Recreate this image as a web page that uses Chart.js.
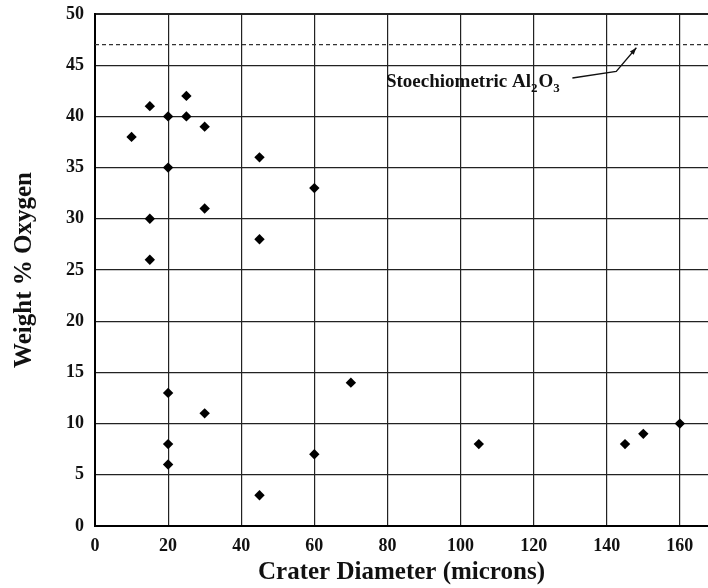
<!DOCTYPE html>
<html>
<head>
<meta charset="utf-8">
<script src="https://cdn.jsdelivr.net/npm/chart.js@4.4.1/dist/chart.umd.min.js"></script>
<style>
html,body{margin:0;padding:0;background:#fff;}
#wrap{width:708px;height:588px;}
</style>
</head>
<body>
<div id="wrap"><canvas id="c" width="708" height="588"></canvas></div>
<script>
// ---- data ----
const craterDiameter = [10, 15, 20, 25, 25, 30, 45, 20, 60, 30, 15, 45, 15, 20, 30, 70, 20, 20, 60, 45, 105, 145, 150, 160];
const weightOxygen   = [38, 41, 40, 42, 40, 39, 36, 35, 33, 31, 30, 28, 26, 13, 11, 14, 8, 6, 7, 3, 8, 8, 9, 10];
const stoichiometricO = 47;
const xTickValues = [0, 20, 40, 60, 80, 100, 120, 140, 160];
const yTickValues = [0, 5, 10, 15, 20, 25, 30, 35, 40, 45, 50];
const xAxisTitle = 'Crater Diameter (microns)';
const yAxisTitle = 'Weight % Oxygen';
const annotationParts = [['Stoechiometric Al', false], ['2', true], ['O', false], ['3', true]];

const X_MIN = 0, X_MAX = 167.7, Y_MIN = 0, Y_MAX = 50;
const SERIF = '"Liberation Serif", "Times New Roman", serif';

const points = craterDiameter.map((x, i) => ({x: x, y: weightOxygen[i]}));
const stoichLine = [{x: X_MIN, y: stoichiometricO}, {x: X_MAX, y: stoichiometricO}];

const bgPlugin = {
  id: 'bg',
  beforeDraw(chart) {
    const c = chart.ctx;
    c.save(); c.fillStyle = '#fff'; c.fillRect(0, 0, chart.width, chart.height); c.restore();
  }
};

const annotationPlugin = {
  id: 'annot',
  afterDatasetsDraw(chart) {
    const c = chart.ctx, xs = chart.scales.x, ys = chart.scales.y;
    let px = xs.getPixelForValue(79.6);
    const py = ys.getPixelForValue(42.87);
    c.save();
    c.fillStyle = '#111';
    c.textBaseline = 'alphabetic';
    c.textAlign = 'left';
    annotationParts.forEach(([t, sub]) => {
      c.font = 'bold ' + (sub ? 13 : 19) + 'px ' + SERIF;
      c.fillText(t, px, py + (sub ? 5 : 0));
      px += c.measureText(t).width + (sub ? 1 : 0);
    });
    const p0 = [xs.getPixelForValue(130.6), ys.getPixelForValue(43.75)];
    const p1 = [xs.getPixelForValue(142.6), ys.getPixelForValue(44.4)];
    const p2 = [xs.getPixelForValue(148.1), ys.getPixelForValue(46.7)];
    c.strokeStyle = '#111';
    c.lineWidth = 1.3;
    c.beginPath(); c.moveTo(p0[0], p0[1]); c.lineTo(p1[0], p1[1]); c.lineTo(p2[0], p2[1]); c.stroke();
    const ang = Math.atan2(p2[1] - p1[1], p2[0] - p1[0]);
    const L = 7, W = 2.5;
    c.beginPath();
    c.moveTo(p2[0], p2[1]);
    c.lineTo(p2[0] - L * Math.cos(ang) + W * Math.sin(ang), p2[1] - L * Math.sin(ang) - W * Math.cos(ang));
    c.lineTo(p2[0] - L * Math.cos(ang) - W * Math.sin(ang), p2[1] - L * Math.sin(ang) + W * Math.cos(ang));
    c.closePath(); c.fillStyle = '#111'; c.fill();
    c.restore();
  }
};

function zeroPad(scale) {
  scale.paddingLeft = 0; scale.paddingRight = 0; scale.paddingTop = 0; scale.paddingBottom = 0;
}

new Chart(document.getElementById('c'), {
  type: 'scatter',
  data: {
    datasets: [
      {
        label: 'Stoichiometric',
        type: 'line',
        data: stoichLine,
        borderColor: '#333',
        borderWidth: 1.2,
        borderDash: [4, 3],
        pointRadius: 0,
        fill: false,
        order: 2
      },
      {
        label: 'Weight % Oxygen',
        data: points,
        pointStyle: 'rectRot',
        pointRadius: 5.2,
        backgroundColor: '#000',
        borderColor: '#000',
        borderWidth: 0,
        order: 1
      }
    ]
  },
  options: {
    responsive: false,
    devicePixelRatio: 1,
    animation: false,
    layout: {autoPadding: false, padding: {top: 14, right: 0, left: 0, bottom: 0}},
    plugins: {legend: {display: false}, tooltip: {enabled: false}},
    scales: {
      x: {
        type: 'linear',
        min: X_MIN, max: X_MAX,
        afterBuildTicks(scale) { scale.ticks = xTickValues.map(v => ({value: v})); },
        afterFit(scale) { scale.height = 62; zeroPad(scale); },
        grid: {color: '#222', lineWidth: 1.2, drawTicks: false},
        border: {display: true, color: '#000', width: 2},
        ticks: {
          padding: 10, color: '#111',
          font: {family: SERIF, size: 18, weight: 'bold'},
          maxRotation: 0
        },
        title: {
          display: true, text: xAxisTitle, color: '#111',
          font: {family: SERIF, size: 25, weight: 'bold'},
          padding: {top: 0, bottom: 0}
        }
      },
      y: {
        type: 'linear',
        min: Y_MIN, max: Y_MAX,
        afterBuildTicks(scale) { scale.ticks = yTickValues.map(v => ({value: v})); },
        afterFit(scale) { scale.width = 95; zeroPad(scale); },
        grid: {
          color: '#222', drawTicks: false,
          lineWidth: ctx => (ctx.tick && ctx.tick.value === Y_MAX ? 2 : 1.2)
        },
        border: {display: true, color: '#000', width: 2},
        ticks: {
          padding: 11, color: '#111',
          font: {family: SERIF, size: 18, weight: 'bold'}
        },
        title: {
          display: true, text: yAxisTitle, color: '#111',
          font: {family: SERIF, size: 25, weight: 'bold'},
          padding: {top: 10, bottom: 0}
        }
      }
    }
  },
  plugins: [bgPlugin, annotationPlugin]
});
</script>
</body>
</html>
